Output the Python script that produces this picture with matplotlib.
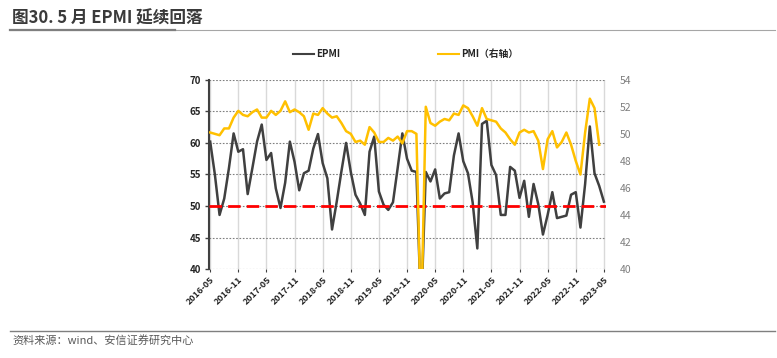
import matplotlib
matplotlib.use("Agg")
import matplotlib.pyplot as plt
from matplotlib.lines import Line2D

plt.rcParams['font.family'] = ['Noto Sans CJK SC', 'DejaVu Sans']

# months 2016-05 .. 2023-05
start_year, start_month = 2016, 5
n_months = 85
months = []
for k in range(n_months):
    m = start_month - 1 + k
    months.append("%d-%02d" % (start_year + m // 12, m % 12 + 1))

# EPMI (left axis), 2016-05 .. 2023-05
epmi = [60.2, 55.0, 48.6, 51.2, 56.0, 61.5, 58.6, 59.0, 51.9, 56.0,
        60.2, 62.9, 57.3, 58.4, 52.8, 49.7, 53.7, 60.2, 57.0, 52.5,
        55.2, 55.6, 59.1, 61.4, 56.8, 54.4, 46.3, 50.7, 55.5, 60.0,
        55.4, 51.8, 50.4, 48.6, 58.6, 61.0, 52.3, 50.2, 49.4, 50.6,
        56.0, 61.5, 57.5, 55.6, 55.4, 33.0, 55.4, 53.9, 55.8, 51.2,
        52.0, 52.2, 58.0, 61.5, 57.1, 55.2, 50.6, 43.3, 63.0, 63.5,
        56.5, 54.9, 48.6, 48.6, 56.2, 55.6, 51.3, 54.0, 48.3, 53.5,
        50.3, 45.5, 48.6, 52.2, 48.1, 48.3, 48.5, 51.8, 52.2, 46.6,
        53.5, 62.6, 55.2, 53.2, 50.7]

# manufacturing PMI (right axis), 2016-05 .. 2023-04
pmi = [50.1, 50.0, 49.9, 50.4, 50.4, 51.2, 51.7, 51.4,
       51.3, 51.6, 51.8, 51.2, 51.2, 51.7, 51.4, 51.7, 52.4, 51.6, 51.8, 51.6,
       51.3, 50.3, 51.5, 51.4, 51.9, 51.5, 51.2, 51.3, 50.8, 50.2, 50.0, 49.4,
       49.5, 49.2, 50.5, 50.1, 49.4, 49.4, 49.7, 49.5, 49.8, 49.3, 50.2, 50.2,
       50.0, 35.7, 52.0, 50.8, 50.6, 50.9, 51.1, 51.0, 51.5, 51.4, 52.1, 51.9,
       51.3, 50.6, 51.9, 51.1, 51.0, 50.9, 50.4, 50.1, 49.6, 49.2, 50.1, 50.3,
       50.1, 50.2, 49.5, 47.4, 49.6, 50.2, 49.0, 49.4, 50.1, 49.2, 48.0, 47.0,
       50.1, 52.6, 51.9, 49.2]

tick_idx = list(range(0, n_months, 6))
tick_labels = [months[i] for i in tick_idx]
line_50 = 50

fig = plt.figure(figsize=(7.77, 3.58), dpi=100)
ax = fig.add_axes([0.2696, 0.2478, 0.510, 0.5296])
ax2 = ax.twinx()

x_e = list(range(len(epmi)))
x_p = list(range(len(pmi)))

ax.plot(x_e, epmi, color='#404040', lw=1.8, zorder=3, solid_joinstyle='round')
ax.axhline(line_50, color='#ff0000', lw=2.0, dashes=(4.5, 2.2), zorder=4)
ax2.plot(x_p, pmi, color='#ffc000', lw=1.8, zorder=3)

ax.set_xlim(-0.15, 84.4)
ax.set_ylim(40, 70)
ax.set_yticks(range(40, 71, 5))
ax2.set_ylim(40, 54)
ax2.set_yticks(range(40, 55, 2))

ax.set_xticks(tick_idx)
ax.set_xticklabels(tick_labels, rotation=45, ha='right', rotation_mode='anchor',
                   fontsize=6.5, fontweight='bold', color='#262626')
for lab in ax.get_yticklabels():
    lab.set_fontsize(7)
    lab.set_fontweight('bold')
    lab.set_color('#262626')
for lab in ax2.get_yticklabels():
    lab.set_fontsize(7.5)
    lab.set_color('#7f7f7f')

ax.grid(axis='y', linestyle=(0, (1.5, 1.5)), color='#7f7f7f', lw=0.8)
ax.grid(axis='x', linestyle='-', color='#d9d9d9', lw=1.0)
ax.set_axisbelow(True)

for s in ['top', 'right', 'bottom']:
    ax.spines[s].set_visible(False)
    ax2.spines[s].set_visible(False)
ax2.spines['left'].set_visible(False)
ax.spines['left'].set_color('#404040')
ax.spines['left'].set_linewidth(1.5)
ax.tick_params(axis='y', length=3, width=1, color='#404040', pad=3)
ax.tick_params(axis='x', length=2, width=0.8, color='#404040', pad=2)
ax2.tick_params(axis='y', length=0, pad=10)

# legend above the plot
handles = [Line2D([], [], color='#404040', lw=1.5),
           Line2D([], [], color='#ffc000', lw=1.5)]
leg = fig.legend(handles, ['EPMI', 'PMI（右轴）'], loc='center', ncol=2,
                 bbox_to_anchor=(0.522, 0.848), frameon=False,
                 handlelength=2.2, handletextpad=0.2, columnspacing=10.0,
                 prop={'size': 7, 'weight': 'bold'})
for t in leg.get_texts():
    t.set_color('#262626')

# title and source
fig.text(0.016, 0.948, '图30. 5 月 EPMI 延续回落', fontsize=12, fontweight='bold',
         color='#3a3a3a', va='center', ha='left')
fig.add_artist(Line2D([0.013, 0.998], [0.915, 0.915], color='#a6a6a6', lw=0.8))
fig.add_artist(Line2D([0.013, 0.225], [0.915, 0.915], color='#7f7f7f', lw=1.6))
fig.add_artist(Line2D([0.013, 0.998], [0.075, 0.075], color='#7f7f7f', lw=1.0))
fig.text(0.016, 0.048, '资料来源：wind、安信证券研究中心', fontsize=8,
         color='#595959', va='center', ha='left', style='italic')

fig.savefig('out.png', dpi=100)
